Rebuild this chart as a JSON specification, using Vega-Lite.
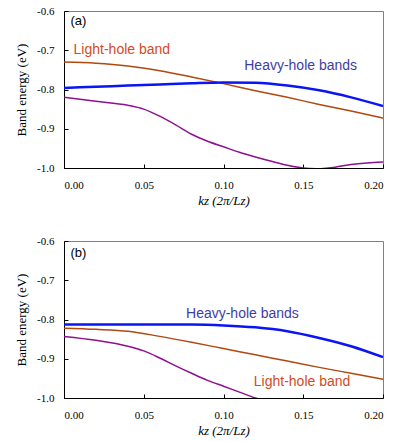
{
  "$schema": "https://vega.github.io/schema/vega-lite/v6.json",
  "padding": {"left": 15, "top": 4, "right": 5, "bottom": 5},
  "background": "white",
  "spacing": 73,
  "bounds": "flush",
  "config": {
    "locale": {"number": {"decimal": ".", "thousands": ",", "grouping": [3], "currency": ["$", ""], "minus": "-"}},
    "view": {"stroke": "#808080", "strokeWidth": 1},
    "axis": {
      "domainColor": "black", "tickColor": "black", "tickSize": -4,
      "labelFont": "Liberation Serif", "labelFontSize": 11, "labelColor": "black", "labelOverlap": false,
      "titleFont": "Liberation Serif", "titleFontSize": 13, "titleFontWeight": "normal", "titleColor": "black",
      "grid": false
    }
  },
  "datasets": {
    "lines": [
      {"panel": "a", "band": "light", "k": 0.00, "E": -0.730},
      {"panel": "a", "band": "light", "k": 0.02, "E": -0.733},
      {"panel": "a", "band": "light", "k": 0.04, "E": -0.740},
      {"panel": "a", "band": "light", "k": 0.06, "E": -0.752},
      {"panel": "a", "band": "light", "k": 0.08, "E": -0.768},
      {"panel": "a", "band": "light", "k": 0.10, "E": -0.785},
      {"panel": "a", "band": "light", "k": 0.12, "E": -0.803},
      {"panel": "a", "band": "light", "k": 0.14, "E": -0.820},
      {"panel": "a", "band": "light", "k": 0.16, "E": -0.838},
      {"panel": "a", "band": "light", "k": 0.18, "E": -0.855},
      {"panel": "a", "band": "light", "k": 0.20, "E": -0.873},
      {"panel": "a", "band": "heavy", "k": 0.00, "E": -0.796},
      {"panel": "a", "band": "heavy", "k": 0.02, "E": -0.793},
      {"panel": "a", "band": "heavy", "k": 0.04, "E": -0.790},
      {"panel": "a", "band": "heavy", "k": 0.06, "E": -0.787},
      {"panel": "a", "band": "heavy", "k": 0.08, "E": -0.784},
      {"panel": "a", "band": "heavy", "k": 0.10, "E": -0.782},
      {"panel": "a", "band": "heavy", "k": 0.12, "E": -0.783},
      {"panel": "a", "band": "heavy", "k": 0.14, "E": -0.790},
      {"panel": "a", "band": "heavy", "k": 0.16, "E": -0.802},
      {"panel": "a", "band": "heavy", "k": 0.18, "E": -0.820},
      {"panel": "a", "band": "heavy", "k": 0.20, "E": -0.842},
      {"panel": "a", "band": "other", "k": 0.00, "E": -0.820},
      {"panel": "a", "band": "other", "k": 0.02, "E": -0.830},
      {"panel": "a", "band": "other", "k": 0.04, "E": -0.840},
      {"panel": "a", "band": "other", "k": 0.05, "E": -0.850},
      {"panel": "a", "band": "other", "k": 0.06, "E": -0.868},
      {"panel": "a", "band": "other", "k": 0.07, "E": -0.890},
      {"panel": "a", "band": "other", "k": 0.08, "E": -0.914},
      {"panel": "a", "band": "other", "k": 0.09, "E": -0.932},
      {"panel": "a", "band": "other", "k": 0.10, "E": -0.946},
      {"panel": "a", "band": "other", "k": 0.11, "E": -0.960},
      {"panel": "a", "band": "other", "k": 0.12, "E": -0.972},
      {"panel": "a", "band": "other", "k": 0.13, "E": -0.983},
      {"panel": "a", "band": "other", "k": 0.14, "E": -0.993},
      {"panel": "a", "band": "other", "k": 0.15, "E": -1.000},
      {"panel": "a", "band": "other", "k": 0.16, "E": -1.002},
      {"panel": "a", "band": "other", "k": 0.17, "E": -0.998},
      {"panel": "a", "band": "other", "k": 0.18, "E": -0.991},
      {"panel": "a", "band": "other", "k": 0.19, "E": -0.987},
      {"panel": "a", "band": "other", "k": 0.20, "E": -0.985},
      {"panel": "b", "band": "heavy", "k": 0.00, "E": -0.813},
      {"panel": "b", "band": "heavy", "k": 0.05, "E": -0.813},
      {"panel": "b", "band": "heavy", "k": 0.08, "E": -0.813},
      {"panel": "b", "band": "heavy", "k": 0.10, "E": -0.815},
      {"panel": "b", "band": "heavy", "k": 0.12, "E": -0.820},
      {"panel": "b", "band": "heavy", "k": 0.14, "E": -0.830},
      {"panel": "b", "band": "heavy", "k": 0.16, "E": -0.847},
      {"panel": "b", "band": "heavy", "k": 0.18, "E": -0.868},
      {"panel": "b", "band": "heavy", "k": 0.20, "E": -0.896},
      {"panel": "b", "band": "light", "k": 0.00, "E": -0.822},
      {"panel": "b", "band": "light", "k": 0.02, "E": -0.825},
      {"panel": "b", "band": "light", "k": 0.04, "E": -0.830},
      {"panel": "b", "band": "light", "k": 0.06, "E": -0.843},
      {"panel": "b", "band": "light", "k": 0.08, "E": -0.858},
      {"panel": "b", "band": "light", "k": 0.10, "E": -0.874},
      {"panel": "b", "band": "light", "k": 0.12, "E": -0.890},
      {"panel": "b", "band": "light", "k": 0.14, "E": -0.906},
      {"panel": "b", "band": "light", "k": 0.16, "E": -0.922},
      {"panel": "b", "band": "light", "k": 0.18, "E": -0.937},
      {"panel": "b", "band": "light", "k": 0.20, "E": -0.952},
      {"panel": "b", "band": "other", "k": 0.00, "E": -0.843},
      {"panel": "b", "band": "other", "k": 0.02, "E": -0.853},
      {"panel": "b", "band": "other", "k": 0.04, "E": -0.868},
      {"panel": "b", "band": "other", "k": 0.05, "E": -0.880},
      {"panel": "b", "band": "other", "k": 0.06, "E": -0.898},
      {"panel": "b", "band": "other", "k": 0.07, "E": -0.918},
      {"panel": "b", "band": "other", "k": 0.08, "E": -0.937},
      {"panel": "b", "band": "other", "k": 0.09, "E": -0.955},
      {"panel": "b", "band": "other", "k": 0.10, "E": -0.970},
      {"panel": "b", "band": "other", "k": 0.11, "E": -0.985},
      {"panel": "b", "band": "other", "k": 0.12, "E": -1.000},
      {"panel": "b", "band": "other", "k": 0.13, "E": -1.013}
    ],
    "labels": [
      {"panel": "a", "kind": "light", "text": "Light-hole band", "k": 0.006, "E": -0.699, "size": 14},
      {"panel": "a", "kind": "heavy", "text": "Heavy-hole bands", "k": 0.113, "E": -0.740, "size": 14},
      {"panel": "a", "kind": "tag", "text": "(a)", "k": 0.004, "E": -0.6255, "size": 13},
      {"panel": "b", "kind": "heavy", "text": "Heavy-hole bands", "k": 0.0765, "E": -0.785, "size": 14},
      {"panel": "b", "kind": "light", "text": "Light-hole band", "k": 0.119, "E": -0.959, "size": 14},
      {"panel": "b", "kind": "tag", "text": "(b)", "k": 0.004, "E": -0.631, "size": 13}
    ]
  },
  "vconcat": [
    {
      "width": 319, "height": 157,
      "resolve": {"scale": {"color": "independent"}},
      "layer": [
        {
          "data": {"name": "lines"},
          "transform": [{"filter": "datum.panel === 'a'"}],
          "mark": {"type": "line", "clip": true, "interpolate": "monotone"},
          "encoding": {
            "x": {"field": "k", "type": "quantitative", "scale": {"domain": [0, 0.2], "nice": false},
                  "axis": {"values": [0, 0.05, 0.1, 0.15, 0.2], "format": ".2f", "labelPadding": 15, "labelOverlap": false, "title": "kz (2π/Lz)", "titleFontStyle": "italic", "titlePadding": 4}},
            "y": {"field": "E", "type": "quantitative", "scale": {"domain": [-1.0, -0.6], "nice": false, "zero": false},
                  "axis": {"values": [-1.0, -0.9, -0.8, -0.7, -0.6], "tickCount": 5, "format": ".1f", "labelOverlap": false, "labelBound": false, "labelPadding": 14, "title": "Band energy (eV)", "titlePadding": 8}},
            "detail": {"field": "band"},
            "color": {"field": "band", "type": "nominal", "legend": null,
                      "scale": {"domain": ["light", "heavy", "other"], "range": ["#B0480F", "#0A14F5", "#8E1090"]}},
            "strokeWidth": {"condition": {"test": "datum.band === 'heavy'", "value": 2.5}, "value": 1.5}
          }
        },
        {
          "data": {"name": "labels"},
          "transform": [{"filter": "datum.panel === 'a'"}],
          "mark": {"type": "text", "align": "left", "baseline": "middle", "font": "Liberation Sans"},
          "encoding": {
            "x": {"field": "k", "type": "quantitative"},
            "y": {"field": "E", "type": "quantitative"},
            "text": {"field": "text"},
            "size": {"field": "size", "type": "quantitative", "scale": null},
            "color": {"field": "kind", "type": "nominal", "legend": null,
                      "scale": {"domain": ["light", "heavy", "tag"], "range": ["#D24B1E", "#3E3EA2", "#000000"]}}
          }
        }
      ]
    },
    {
      "width": 319, "height": 157,
      "resolve": {"scale": {"color": "independent"}},
      "layer": [
        {
          "data": {"name": "lines"},
          "transform": [{"filter": "datum.panel === 'b'"}],
          "mark": {"type": "line", "clip": true, "interpolate": "monotone"},
          "encoding": {
            "x": {"field": "k", "type": "quantitative", "scale": {"domain": [0, 0.2], "nice": false},
                  "axis": {"values": [0, 0.05, 0.1, 0.15, 0.2], "format": ".2f", "labelPadding": 15, "labelOverlap": false, "title": "kz (2π/Lz)", "titleFontStyle": "italic", "titlePadding": 4}},
            "y": {"field": "E", "type": "quantitative", "scale": {"domain": [-1.0, -0.6], "nice": false, "zero": false},
                  "axis": {"values": [-1.0, -0.9, -0.8, -0.7, -0.6], "tickCount": 5, "format": ".1f", "labelOverlap": false, "labelBound": false, "labelPadding": 14, "title": "Band energy (eV)", "titlePadding": 8}},
            "detail": {"field": "band"},
            "color": {"field": "band", "type": "nominal", "legend": null,
                      "scale": {"domain": ["light", "heavy", "other"], "range": ["#B0480F", "#0A14F5", "#8E1090"]}},
            "strokeWidth": {"condition": {"test": "datum.band === 'heavy'", "value": 2.5}, "value": 1.5}
          }
        },
        {
          "data": {"name": "labels"},
          "transform": [{"filter": "datum.panel === 'b'"}],
          "mark": {"type": "text", "align": "left", "baseline": "middle", "font": "Liberation Sans"},
          "encoding": {
            "x": {"field": "k", "type": "quantitative"},
            "y": {"field": "E", "type": "quantitative"},
            "text": {"field": "text"},
            "size": {"field": "size", "type": "quantitative", "scale": null},
            "color": {"field": "kind", "type": "nominal", "legend": null,
                      "scale": {"domain": ["light", "heavy", "tag"], "range": ["#D24B1E", "#3E3EA2", "#000000"]}}
          }
        }
      ]
    }
  ]
}
